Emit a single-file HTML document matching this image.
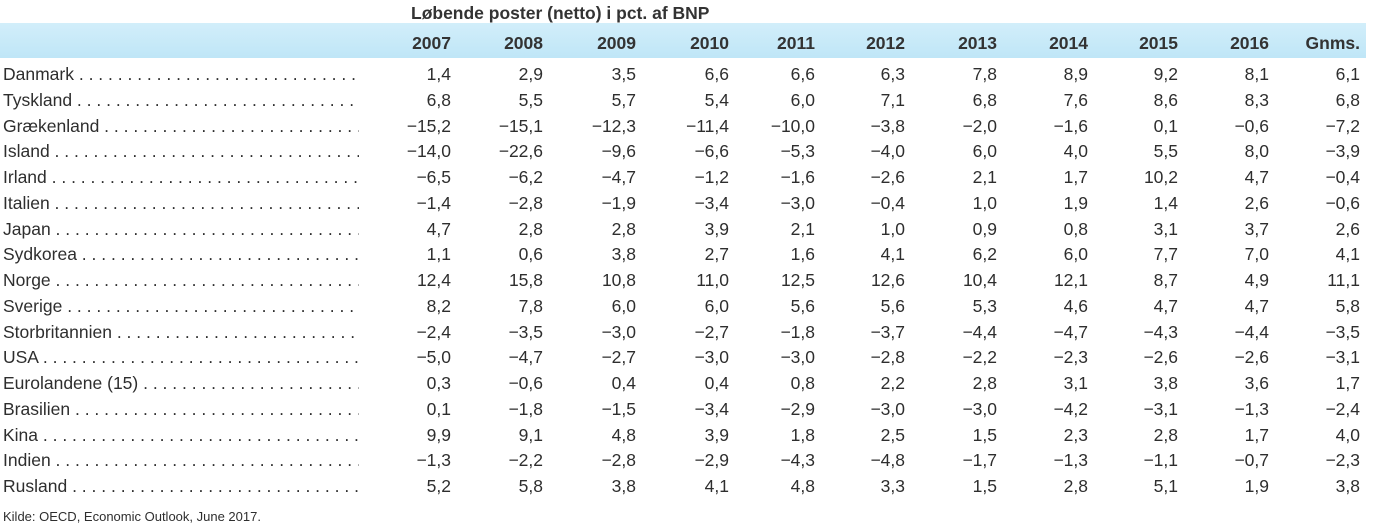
<!DOCTYPE html>
<html><head><meta charset="utf-8"><style>
body{margin:0;width:1400px;height:527px;background:#fff;position:relative;overflow:hidden;font-family:"Liberation Sans Narrow","Liberation Sans",sans-serif;color:#2e2e2e}
.bar{position:absolute;left:0;top:23px;width:1366px;height:35px;background:linear-gradient(#d2eefa,#bfe6f7)}
.t{position:absolute;font-size:17.5px;line-height:20px;white-space:nowrap}
.r{text-align:right;width:80px}
.b{font-weight:bold;color:#333}
.lab{left:3px;width:356px;overflow:hidden}
</style></head><body>
<div class="bar"></div>
<div class="t b" style="left:411px;top:3px">Løbende poster (netto) i pct. af BNP</div>
<div id="c"></div>
<div class="t" style="left:3px;top:507px;font-size:13px">Kilde: OECD, Economic Outlook, June 2017.</div>
<script>
var xs=[451,543,636,729,815,905,997,1088,1178,1269,1360];
var hdr=["2007","2008","2009","2010","2011","2012","2013","2014","2015","2016","Gnms."];
var rows=[
["Danmark","1,4","2,9","3,5","6,6","6,6","6,3","7,8","8,9","9,2","8,1","6,1"],
["Tyskland","6,8","5,5","5,7","5,4","6,0","7,1","6,8","7,6","8,6","8,3","6,8"],
["Grækenland","−15,2","−15,1","−12,3","−11,4","−10,0","−3,8","−2,0","−1,6","0,1","−0,6","−7,2"],
["Island","−14,0","−22,6","−9,6","−6,6","−5,3","−4,0","6,0","4,0","5,5","8,0","−3,9"],
["Irland","−6,5","−6,2","−4,7","−1,2","−1,6","−2,6","2,1","1,7","10,2","4,7","−0,4"],
["Italien","−1,4","−2,8","−1,9","−3,4","−3,0","−0,4","1,0","1,9","1,4","2,6","−0,6"],
["Japan","4,7","2,8","2,8","3,9","2,1","1,0","0,9","0,8","3,1","3,7","2,6"],
["Sydkorea","1,1","0,6","3,8","2,7","1,6","4,1","6,2","6,0","7,7","7,0","4,1"],
["Norge","12,4","15,8","10,8","11,0","12,5","12,6","10,4","12,1","8,7","4,9","11,1"],
["Sverige","8,2","7,8","6,0","6,0","5,6","5,6","5,3","4,6","4,7","4,7","5,8"],
["Storbritannien","−2,4","−3,5","−3,0","−2,7","−1,8","−3,7","−4,4","−4,7","−4,3","−4,4","−3,5"],
["USA","−5,0","−4,7","−2,7","−3,0","−3,0","−2,8","−2,2","−2,3","−2,6","−2,6","−3,1"],
["Eurolandene (15)","0,3","−0,6","0,4","0,4","0,8","2,2","2,8","3,1","3,8","3,6","1,7"],
["Brasilien","0,1","−1,8","−1,5","−3,4","−2,9","−3,0","−3,0","−4,2","−3,1","−1,3","−2,4"],
["Kina","9,9","9,1","4,8","3,9","1,8","2,5","1,5","2,3","2,8","1,7","4,0"],
["Indien","−1,3","−2,2","−2,8","−2,9","−4,3","−4,8","−1,7","−1,3","−1,1","−0,7","−2,3"],
["Rusland","5,2","5,8","3,8","4,1","4,8","3,3","1,5","2,8","5,1","1,9","3,8"]];
var h="";
hdr.forEach(function(s,i){h+='<div class="t r b" style="left:'+(xs[i]-80)+'px;top:33px">'+s+'</div>';});
rows.forEach(function(r,j){var y=64+j*25.75;
h+='<div class="t lab" style="top:'+y+'px">'+r[0]+' '+'. '.repeat(60)+'</div>';
for(var i=1;i<12;i++)h+='<div class="t r" style="left:'+(xs[i-1]-80)+'px;top:'+y+'px">'+r[i]+'</div>';});
document.getElementById("c").innerHTML=h;
</script>
</body></html>
